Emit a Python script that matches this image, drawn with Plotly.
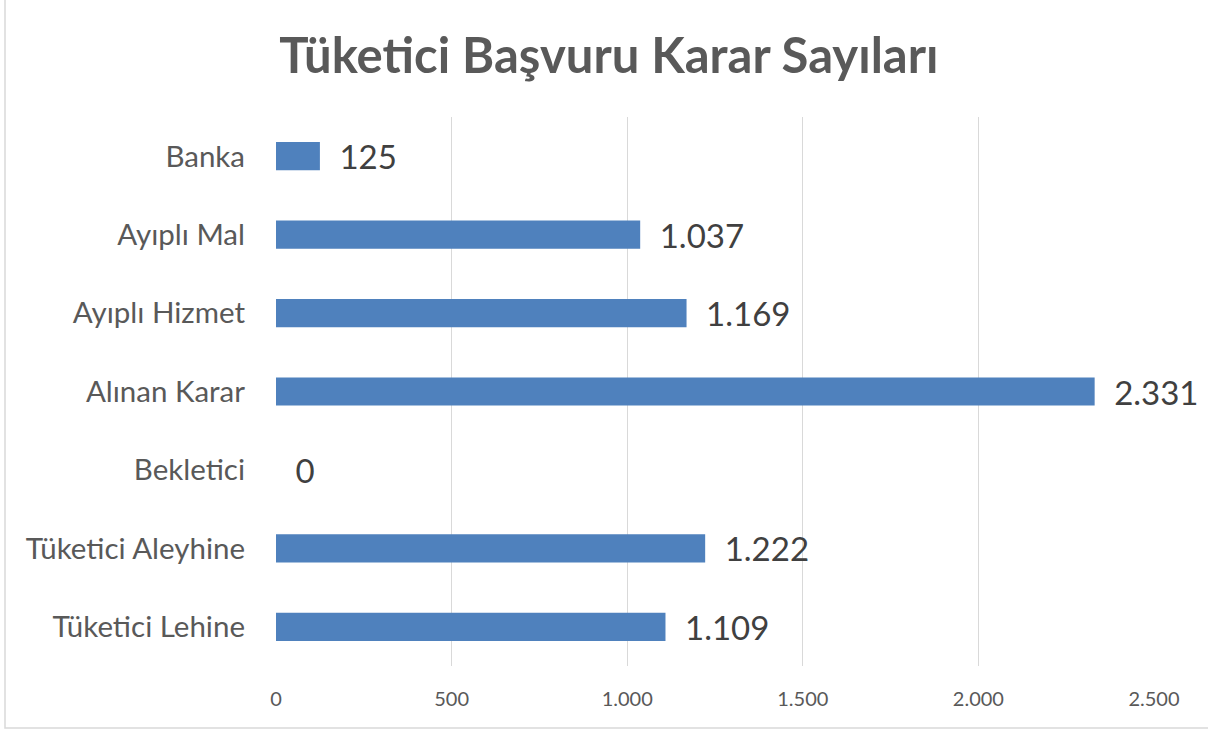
import plotly.graph_objects as go

categories = ["Tüketici Lehine", "Tüketici Aleyhine", "Bekletici", "Alınan Karar",
              "Ayıplı Hizmet", "Ayıplı Mal", "Banka"]
values = [1109, 1222, 0, 2331, 1169, 1037, 125]
x_ticks = [0, 500, 1000, 1500, 2000, 2500]

FONT = "Lato, 'Open Sans', sans-serif"

fig = go.Figure(go.Bar(
    y=categories,
    x=values,
    orientation="h",
    marker=dict(color="#4F81BD", line=dict(width=0)),
    width=0.36,
    texttemplate="\u2002%{x:,}",
    textposition="outside",
    constraintext="none",
    cliponaxis=False,
    textfont=dict(family=FONT, size=33, color="#404040"),
    hoverinfo="skip",
))

L, R, T, B = 276, 1154, 117, 666
W, H = 1208, 731
pw, ph = R - L, B - T

fig.update_layout(
    width=W, height=H,
    margin=dict(l=L, r=W - R, t=T, b=H - B),
    paper_bgcolor="white",
    plot_bgcolor="white",
    separators=",.",
    showlegend=False,
    title=dict(
        text="<b>Tüketici Başvuru Karar Sayıları</b>",
        font=dict(family=FONT, size=49, color="#595959"),
        x=0.504, xanchor="center",
        y=1 - 56 / H, yanchor="middle",
        xref="container", yref="container",
    ),
    xaxis=dict(
        range=[0, 2500],
        tickvals=x_ticks,
        tickformat=",d",
        showgrid=True, gridcolor="#D9D9D9", gridwidth=1,
        zeroline=False,
        showline=False,
        ticks="",
        ticklabelstandoff=19,
        tickfont=dict(family=FONT, size=20, color="#595959"),
        fixedrange=True,
    ),
    yaxis=dict(
        categoryorder="array",
        categoryarray=categories,
        range=[-0.5, 6.5],
        showgrid=False,
        zeroline=False,
        showline=False,
        ticks="",
        ticklabelstandoff=30,
        tickfont=dict(family=FONT, size=29.5, color="#595959"),
        fixedrange=True,
    ),
    shapes=[dict(
        type="rect", xref="paper", yref="paper",
        x0=(5 - L) / pw, x1=(1215 - L) / pw,
        y0=(B - 728) / ph, y1=(B + 5) / ph,
        line=dict(color="#D9D9D9", width=1.5),
        fillcolor="rgba(0,0,0,0)",
        layer="below",
    )],
)

fig.write_html("out.html", config={"displayModeBar": False},
               post_script="document.body.style.margin='0';")
